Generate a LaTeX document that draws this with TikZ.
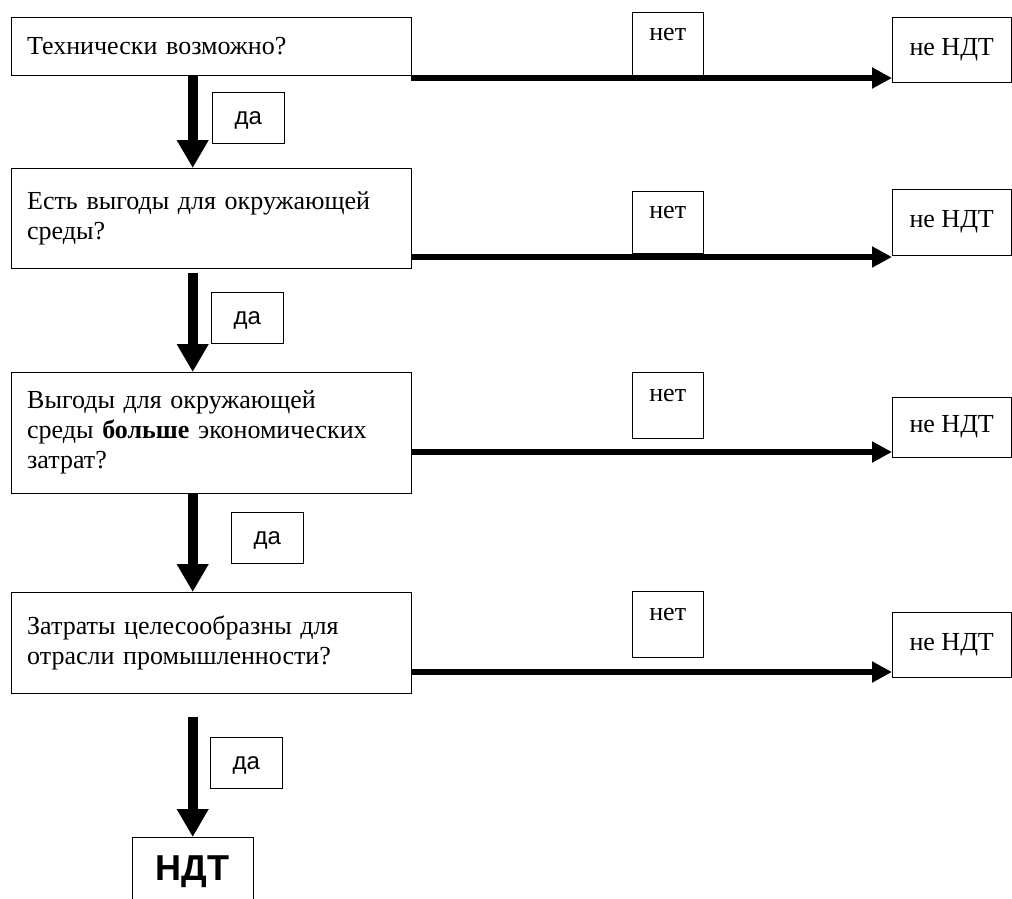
\documentclass[tikz,border=0pt]{standalone}
\usepackage{fontspec}
\setmainfont{Liberation Serif}
\setsansfont{Liberation Sans}
\usetikzlibrary{positioning}
\usetikzlibrary{arrows.meta}

\begin{document}
\begin{tikzpicture}[
    x=1pt, y=-1pt,
    font=\fontsize{26}{30}\selectfont,
    qbox/.style={draw,rectangle,anchor=north west,inner xsep=16pt,text width=368pt,align=left},
    nbox/.style={draw,rectangle,anchor=north west,minimum width=71pt,text depth=20pt},
    rbox/.style={draw,rectangle,anchor=north west,minimum width=119pt},
    dbox/.style={draw,rectangle,anchor=north west,minimum width=72pt,minimum height=51pt,text depth=0pt,font=\sffamily\fontsize{24}{28}\selectfont},
    varrow/.style={line width=10pt,-{Triangle[length=28pt,width=30pt]}},
    harrow/.style={line width=6pt,-{Triangle[length=20pt,width=20pt]}}
    ]
    \useasboundingbox (0,0) rectangle (1012,898);

    \node[qbox, minimum height=58pt] (q1) at (11,17) {Технически возможно?};
    \node[qbox, minimum height=100pt] (q2) at (11,168) {Есть выгоды для окружающей\\ среды?};
    \node[qbox, minimum height=121pt] (q3) at (11,372) {Выгоды для окружающей\\ среды \textbf{больше} экономических\\ затрат?};
    \node[qbox, minimum height=101pt] (q4) at (11,592) {Затраты целесообразны для\\ отрасли промышленности?};

    \node[nbox, minimum height=64pt] (n1) at (632,12) {нет};
    \node[nbox, minimum height=62pt] (n2) at (632,191) {нет};
    \node[nbox, minimum height=66pt] (n3) at (632,372) {нет};
    \node[nbox, minimum height=66pt] (n4) at (632,591) {нет};

    \node[rbox, minimum height=65pt] (r1) at (892,17) {не НДТ};
    \node[rbox, minimum height=66pt] (r2) at (892,189) {не НДТ};
    \node[rbox, minimum height=60pt] (r3) at (892,397) {не НДТ};
    \node[rbox, minimum height=65pt] (r4) at (892,612) {не НДТ};

    \node[dbox] (d1) at (212,92) {да};
    \node[dbox] (d2) at (211,292) {да};
    \node[dbox] (d3) at (231,512) {да};
    \node[dbox] (d4) at (210,737) {да};

    \node[draw,rectangle,anchor=north west,minimum width=121pt,minimum height=68pt,
      font=\sffamily\bfseries\fontsize{36}{40}\selectfont] (ndt) at (132,837) {НДТ};

    \coordinate (e1) at (0,78);
    \coordinate (e2) at (0,257);
    \coordinate (e3) at (0,452);
    \coordinate (e4) at (0,672);

    \path (q1.south -| ndt) edge[varrow] (q2.north -| ndt)
    (q2.south -| ndt) edge[varrow, shorten <=5pt] (q3.north -| ndt)
    (q3.south -| ndt) edge[varrow] (q4.north -| ndt)
    (q4.south -| ndt) edge[varrow, shorten <=24pt] (ndt.north)
    (q1.east |- e1) edge[harrow] (r1.west |- e1)
    (q2.east |- e2) edge[harrow] (r2.west |- e2)
    (q3.east |- e3) edge[harrow] (r3.west |- e3)
    (q4.east |- e4) edge[harrow] (r4.west |- e4)
    ;

  \end{tikzpicture}
\end{document}
